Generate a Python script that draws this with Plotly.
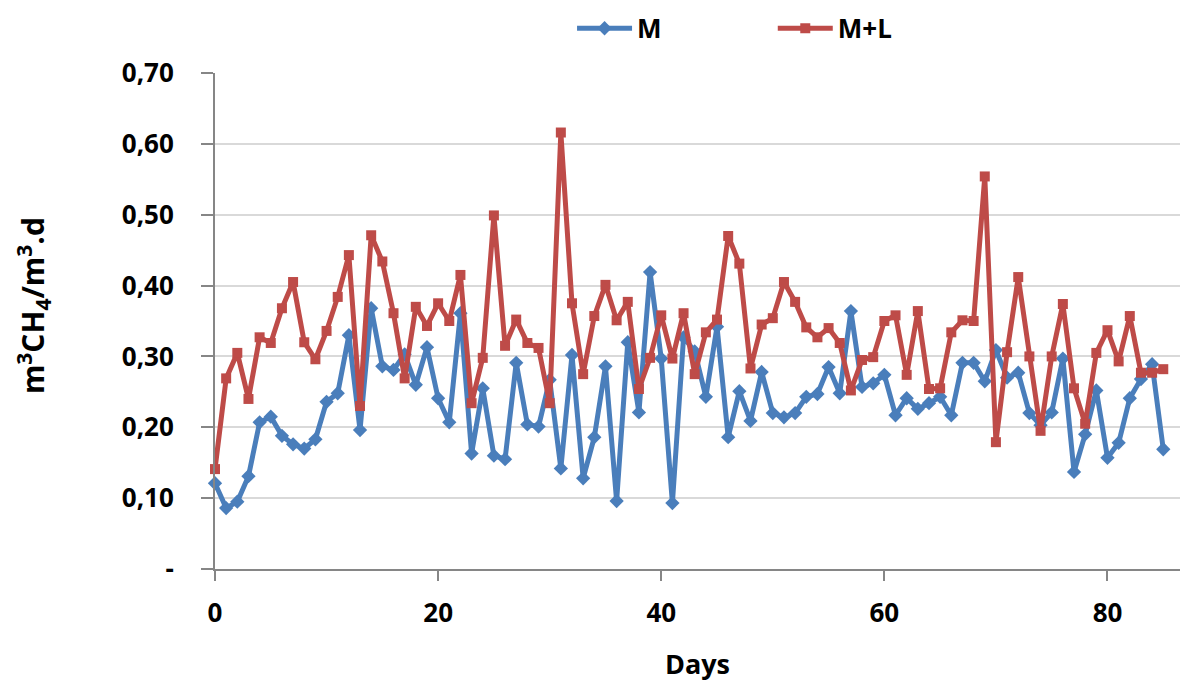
import plotly.graph_objects as go

days = list(range(0, 86))

m_values = [0.121, 0.086, 0.095, 0.131, 0.207, 0.215, 0.188, 0.176, 0.170, 0.183,
            0.236, 0.248, 0.330, 0.196, 0.368, 0.286, 0.281, 0.303, 0.260, 0.313,
            0.241, 0.207, 0.361, 0.163, 0.255, 0.160, 0.155, 0.291, 0.204, 0.201,
            0.267, 0.142, 0.302, 0.128, 0.186, 0.286, 0.096, 0.320, 0.221, 0.419,
            0.297, 0.093, 0.327, 0.307, 0.243, 0.342, 0.186, 0.251, 0.209, 0.278,
            0.220, 0.214, 0.220, 0.243, 0.247, 0.285, 0.248, 0.364, 0.257, 0.262,
            0.274, 0.217, 0.241, 0.226, 0.234, 0.243, 0.217, 0.291, 0.291, 0.265,
            0.309, 0.270, 0.277, 0.220, 0.203, 0.221, 0.297, 0.137, 0.190, 0.252,
            0.157, 0.178, 0.241, 0.268, 0.289, 0.169]

ml_values = [0.141, 0.269, 0.305, 0.240, 0.327, 0.319, 0.368, 0.405, 0.320, 0.296,
             0.336, 0.384, 0.443, 0.230, 0.471, 0.434, 0.361, 0.269, 0.370, 0.343,
             0.375, 0.350, 0.415, 0.234, 0.298, 0.499, 0.315, 0.352, 0.319, 0.312,
             0.234, 0.616, 0.375, 0.275, 0.357, 0.401, 0.351, 0.377, 0.254, 0.298,
             0.358, 0.297, 0.361, 0.275, 0.334, 0.352, 0.470, 0.431, 0.283, 0.345,
             0.354, 0.405, 0.377, 0.341, 0.327, 0.340, 0.319, 0.252, 0.295, 0.299,
             0.350, 0.358, 0.274, 0.364, 0.254, 0.255, 0.334, 0.351, 0.350, 0.554,
             0.179, 0.306, 0.412, 0.300, 0.195, 0.300, 0.374, 0.255, 0.205, 0.305,
             0.337, 0.293, 0.357, 0.277, 0.277, 0.282]

y_tickvals = [0, 0.1, 0.2, 0.3, 0.4, 0.5, 0.6, 0.7]
y_ticktext = ["-", "0,10", "0,20", "0,30", "0,40", "0,50", "0,60", "0,70"]
x_tickvals = [0, 20, 40, 60, 80]

BLUE = "#4A7EBB"
RED = "#BE4B48"
FONT = "Open Sans"
FS = 26

fig = go.Figure()
fig.add_trace(go.Scatter(
    x=days, y=m_values, name="M", mode="lines+markers", cliponaxis=False,
    line=dict(color=BLUE, width=5),
    marker=dict(symbol="diamond", size=11, color=BLUE),
    legend="legend",
))
fig.add_trace(go.Scatter(
    x=days, y=ml_values, name="M+L", mode="lines+markers", cliponaxis=False,
    line=dict(color=RED, width=5),
    marker=dict(symbol="square", size=10, color=RED),
    legend="legend2",
))

legend_common = dict(orientation="h", y=1.09, yanchor="middle", xanchor="left",
                     font=dict(family=FONT, size=26, color="black", weight="bold"),
                     itemwidth=55, bgcolor="rgba(0,0,0,0)", borderwidth=0)

fig.update_layout(
    width=1190, height=682,
    paper_bgcolor="white", plot_bgcolor="white",
    margin=dict(l=207, r=18, t=65, b=121, autoexpand=False),
    font=dict(family=FONT, size=FS, color="black"),
    showlegend=True,
    legend=dict(x=0.370, **legend_common),
    legend2=dict(x=0.578, **legend_common),
    xaxis=dict(
        range=[0, 86.5], tickvals=x_tickvals, showgrid=False, zeroline=False,
        showline=True, linecolor="#868686", linewidth=2,
        ticks="outside", ticklen=10, tickcolor="#868686", tickwidth=2,
        ticklabelstandoff=10,
        tickfont=dict(family=FONT, size=FS, weight="bold"),
        title=dict(text="<b>Days</b>", font=dict(family=FONT, size=27), standoff=26),
    ),
    yaxis=dict(
        range=[0, 0.70], tickvals=y_tickvals, ticktext=y_ticktext,
        showgrid=True, gridcolor="#D9D9D9", gridwidth=2, zeroline=False,
        showline=True, linecolor="#868686", linewidth=2,
        ticks="outside", ticklen=12, tickcolor="#868686", tickwidth=2,
        ticklabelstandoff=22,
        tickfont=dict(family=FONT, size=FS, weight="bold"),
    ),
    annotations=[dict(
        text="<b>m<sup>3</sup>CH<sub>4</sub>/m<sup>3</sup>.d</b>",
        xref="paper", yref="paper", x=0, y=0.530, xanchor="center", yanchor="middle",
        xshift=-182, textangle=-90, showarrow=False,
        font=dict(family=FONT, size=30, color="black"),
    )],
)

fig.write_html("out.html")
